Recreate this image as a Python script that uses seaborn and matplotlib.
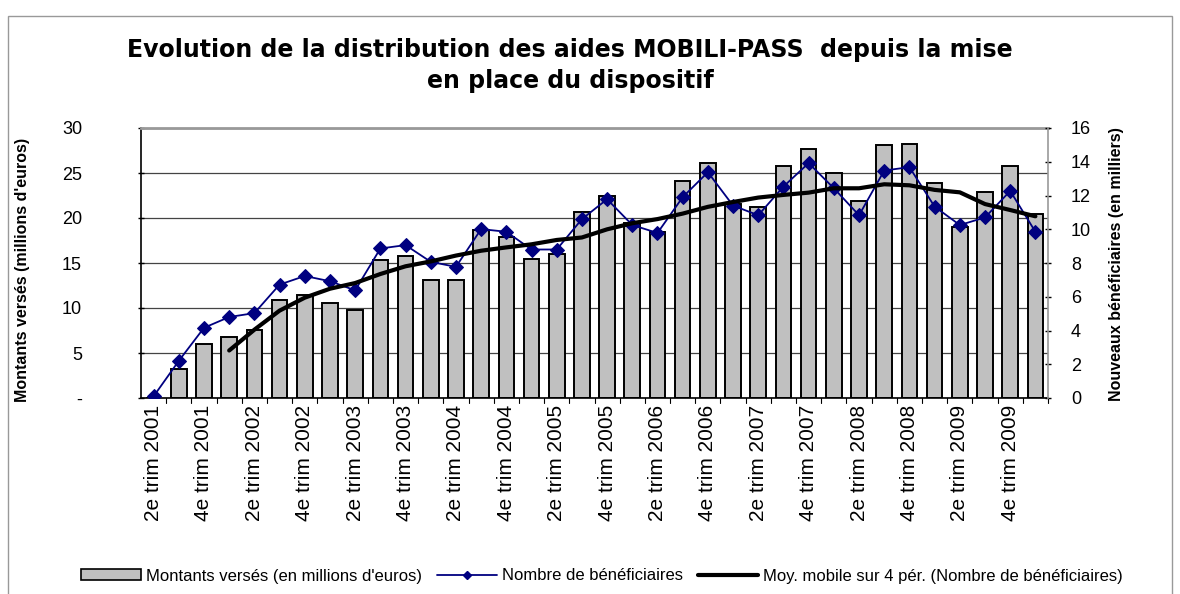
import numpy as np
import pandas as pd
import matplotlib
matplotlib.use("Agg")
import matplotlib.pyplot as plt
from matplotlib.patches import Rectangle
from matplotlib.lines import Line2D
import seaborn as sns

# quarters (first one = 2e trim 2001)
quarters = []
for y in range(2001, 2011):
    for q in ["1er", "2e", "3e", "4e"]:
        quarters.append(q + " trim " + str(y))
quarters = quarters[1:37]

# montants versés (millions d'euros)
montants = [0, 3.2, 6.0, 6.8, 7.6, 10.9, 11.4, 10.6, 9.8, 15.3, 15.75, 13.15,
            13.15, 18.7, 17.9, 15.5, 16.05, 20.7, 22.5, 19.5, 18.5, 24.1, 26.1, 21.6,
            21.25, 25.8, 27.65, 24.97, 21.9, 28.1, 28.2, 23.85, 18.95, 22.9, 25.8, 20.4]

# nombre de bénéficiaires (milliers)
benef = [0.1, 2.2, 4.16, 4.8, 5.03, 6.72, 7.23, 6.92, 6.38, 8.86, 9.06, 8.07,
         7.77, 10.01, 9.85, 8.8, 8.8, 10.6, 11.78, 10.25, 9.78, 11.9, 13.38, 11.4,
         10.83, 12.53, 13.92, 12.43, 10.83, 13.48, 13.68, 11.34, 10.25, 10.7, 12.27, 9.85]

df = pd.DataFrame({"quarter": quarters, "montants": montants, "benef": benef})
df["pos"] = np.arange(len(df))
df["mm4"] = df["benef"].rolling(4).mean()

sns.set_style("white")
plt.rcParams["font.family"] = ["Liberation Sans", "DejaVu Sans"]
plt.rcParams["text.color"] = "black"
plt.rcParams["xtick.color"] = "black"
plt.rcParams["ytick.color"] = "black"
plt.rcParams["axes.labelcolor"] = "black"

fig = plt.figure(figsize=(11.8, 5.94), dpi=100)
ax = fig.add_axes([141 / 1180, 1 - 398 / 594, 907 / 1180, 270 / 594])

sns.barplot(data=df, x="quarter", y="montants", ax=ax, color="#c0c0c0",
            edgecolor="black", linewidth=1.4, width=0.62, saturation=1, zorder=2)
ax.set_xlim(-0.5, len(df) - 0.5)
ax.set_ylim(0, 30)
ax.set_yticks(range(0, 31, 5))
ax.set_yticklabels(["-", "5", "10", "15", "20", "25", "30"], fontsize=13)
ax.yaxis.grid(True, color="#444444", linewidth=0.9, zorder=0)
ax.set_axisbelow(True)
ax.set_xticks(df["pos"])
ax.set_xticklabels([q if i % 2 == 0 else "" for i, q in enumerate(quarters)],
                   rotation=90, fontsize=15)
ax.tick_params(axis="x", length=0, pad=5)
ax.tick_params(axis="y", length=5, direction="inout", width=1, pad=40)
ax.set_xlabel("")
ax.set_ylabel("")
for s in ["left", "bottom"]:
    ax.spines[s].set_color("black")
    ax.spines[s].set_linewidth(1.2)
ax.spines["top"].set_color("#999999")
ax.spines["top"].set_linewidth(2)
ax.spines["right"].set_visible(False)
# small category separators on x axis
for p in df["pos"]:
    ax.plot([p + 0.5, p + 0.5], [0, -0.5], color="black", lw=0.8, clip_on=False)

ax2 = ax.twinx()
sns.lineplot(data=df, x="pos", y="benef", ax=ax2, color="#000080", lw=1.3,
             marker="D", markersize=7, markeredgecolor="#000080")
sns.lineplot(data=df, x="pos", y="mm4", ax=ax2, color="black", lw=3)
ax2.set_ylim(0, 16)
ax2.set_yticks(range(0, 17, 2))
ax2.tick_params(axis="y", labelsize=13, length=5, direction="inout", width=1,
                colors="black", pad=14)
ax2.set_xlim(-0.5, len(df) - 0.5)
ax2.set_ylabel("")
ax2.set_xlabel("")
for s in ["left", "bottom", "top"]:
    ax2.spines[s].set_visible(False)
ax2.spines["right"].set_color("#999999")
ax2.spines["right"].set_linewidth(1.2)

fig.text(0.483, 1 - 50 / 594, "Evolution de la distribution des aides MOBILI-PASS  depuis la mise",
         ha="center", va="center", fontsize=17, fontweight="bold", family="DejaVu Sans",
         color="black")
fig.text(0.483, 1 - 81 / 594, "en place du dispositif",
         ha="center", va="center", fontsize=17, fontweight="bold", family="DejaVu Sans",
         color="black")

fig.text(23 / 1180, 1 - 270 / 594, "Montants versés (millions d'euros)", rotation=90,
         ha="center", va="center", fontsize=11.5, fontweight="heavy", color="black")
fig.text(1116 / 1180, 1 - 264 / 594, "Nouveaux bénéficiaires (en milliers)", rotation=90,
         ha="center", va="center", fontsize=11.5, fontweight="heavy", color="black")

handles = [Rectangle((0, 0), 1, 1, facecolor="#c0c0c0", edgecolor="black", lw=1.2),
           Line2D([], [], color="#000080", lw=1.3, marker="D", markersize=4),
           Line2D([], [], color="black", lw=3)]
labels = ["Montants versés (en millions d'euros)", "Nombre de bénéficiaires",
          "Moy. mobile sur 4 pér. (Nombre de bénéficiaires)"]
fig.legend(handles, labels, loc="center", bbox_to_anchor=(0.51, 1 - 576 / 594), ncol=3,
           frameon=False, fontsize=12, handlelength=3.6, handletextpad=0.3,
           columnspacing=0.9, handleheight=0.6)

fig.add_artist(Rectangle((8 / 1180, -0.05), 1164 / 1180, 1 - 16 / 594 + 0.05,
                         transform=fig.transFigure, fill=False, edgecolor="#999999", lw=1))

fig.savefig("out.png", dpi=100)
